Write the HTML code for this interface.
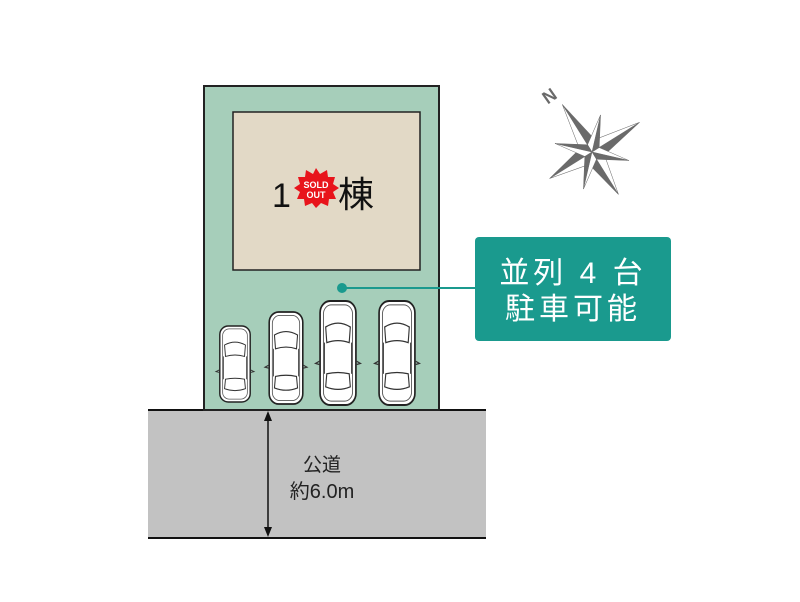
<!DOCTYPE html>
<html><head><meta charset="utf-8"><style>
html,body{margin:0;padding:0;background:#fff;}
body{width:800px;height:602px;overflow:hidden;position:relative;font-family:"Liberation Sans","Noto Sans CJK JP",sans-serif;}
</style></head><body>
<svg width="800" height="602" viewBox="0 0 800 602" xmlns="http://www.w3.org/2000/svg" style="position:absolute;left:0;top:0">
<defs>
<g id="car">
  <rect x="-16" y="-40" width="32" height="80" rx="9" fill="#fff" stroke="#222" stroke-width="1.5"/>
  <rect x="-13" y="-37" width="26" height="74" rx="7" fill="none" stroke="#555" stroke-width="0.8"/>
  <path d="M-11,-20 Q0,-26 11,-20 L10,-8 Q0,-11 -10,-8 Z" fill="#fff" stroke="#333" stroke-width="1"/>
  <path d="M-10,16 Q0,14 10,16 L11,26 Q0,30 -11,26 Z" fill="#fff" stroke="#333" stroke-width="1"/>
  <line x1="-12" y1="-8" x2="-12" y2="16" stroke="#333" stroke-width="0.8"/>
  <line x1="12" y1="-8" x2="12" y2="16" stroke="#333" stroke-width="0.8"/>
  <path d="M-16,6 l-4,2 l4,1 M16,6 l4,2 l-4,1" stroke="#333" fill="none" stroke-width="1"/>
</g>
</defs>
<rect x="148" y="410" width="338" height="128" fill="#c2c2c2"/>
<line x1="148" y1="410" x2="486" y2="410" stroke="#111" stroke-width="2"/>
<line x1="148" y1="538" x2="486" y2="538" stroke="#111" stroke-width="2"/>
<rect x="204" y="86" width="235" height="324" fill="#a6ceba" stroke="#222" stroke-width="2"/>
<rect x="233" y="112" width="187" height="158" fill="#e2d9c6" stroke="#222" stroke-width="1.5"/>
<text x="272" y="207" font-size="34" fill="#111" font-family="Liberation Sans, sans-serif">1</text>
<text x="338" y="207" font-size="36" fill="#111" font-family="Noto Sans CJK JP, sans-serif">棟</text>
<polygon points="316,168 320,174 327,170 328,177 335,177 333,184 339,188 333,192 336,199 329,199 328,206 321,203 316,208 312,203 305,206 304,199 297,199 300,192 294,188 300,184 298,177 305,177 306,170 313,174" fill="#e8141b"/>
<text x="316" y="188" font-size="9" font-weight="bold" fill="#fff" text-anchor="middle" font-family="Liberation Sans, sans-serif">SOLD</text>
<text x="316" y="198" font-size="9" font-weight="bold" fill="#fff" text-anchor="middle" font-family="Liberation Sans, sans-serif">OUT</text>
<g transform="translate(235,364) scale(0.95)"><use href="#car"/></g>
<g transform="translate(286,358) scale(1.05,1.15)"><use href="#car"/></g>
<g transform="translate(338,353) scale(1.12,1.3)"><use href="#car"/></g>
<g transform="translate(397,353) scale(1.12,1.3)"><use href="#car"/></g>
<line x1="342" y1="288" x2="476" y2="288" stroke="#1a9a8e" stroke-width="2"/>
<circle cx="342" cy="288" r="5" fill="#1a9a8e"/>
<rect x="475" y="237" width="196" height="104" rx="4" fill="#1a9a8e"/>
<text x="573" y="283" font-size="30" fill="#fff" text-anchor="middle" letter-spacing="4" font-family="Liberation Sans, Noto Sans CJK JP, sans-serif">並列 4 台</text>
<text x="573" y="319" font-size="30" fill="#fff" text-anchor="middle" letter-spacing="4" font-family="Noto Sans CJK JP, sans-serif">駐車可能</text>
<line x1="268" y1="414" x2="268" y2="534" stroke="#111" stroke-width="1.5"/>
<polygon points="268,411 264,421 272,421" fill="#111"/>
<polygon points="268,537 264,527 272,527" fill="#111"/>
<text x="322" y="471" font-size="19" fill="#222" text-anchor="middle" font-family="Noto Sans CJK JP, sans-serif">公道</text>
<text x="322" y="498" font-size="20" fill="#222" text-anchor="middle" font-family="Liberation Sans, Noto Sans CJK JP, sans-serif">約6.0m</text>
<g transform="translate(592,152)" fill="#6a6a6a" stroke="#6a6a6a" stroke-width="0.5">
  <g transform="rotate(-32)">
    <polygon points="0,-56 9,-9 0,0"/><polygon points="0,-56 -9,-9 0,0" fill="#fff"/>
    <polygon points="56,0 9,9 0,0"/><polygon points="56,0 9,-9 0,0" fill="#fff"/>
    <polygon points="0,50 -9,9 0,0"/><polygon points="0,50 9,9 0,0" fill="#fff"/>
    <polygon points="-50,0 -9,-9 0,0"/><polygon points="-50,0 -9,9 0,0" fill="#fff"/>
    <g transform="rotate(45)">
      <polygon points="0,-38 6,-6 0,0"/><polygon points="0,-38 -6,-6 0,0" fill="#fff"/>
      <polygon points="38,0 6,6 0,0"/><polygon points="38,0 6,-6 0,0" fill="#fff"/>
      <polygon points="0,38 -6,6 0,0"/><polygon points="0,38 6,6 0,0" fill="#fff"/>
      <polygon points="-38,0 -6,-6 0,0"/><polygon points="-38,0 -6,6 0,0" fill="#fff"/>
    </g>
  </g>
</g>
<text x="0" y="0" font-size="18" font-weight="bold" fill="#6a6a6a" transform="translate(553,101) rotate(-35)" text-anchor="middle" font-family="Liberation Sans, sans-serif">N</text>
</svg>
</body></html>
